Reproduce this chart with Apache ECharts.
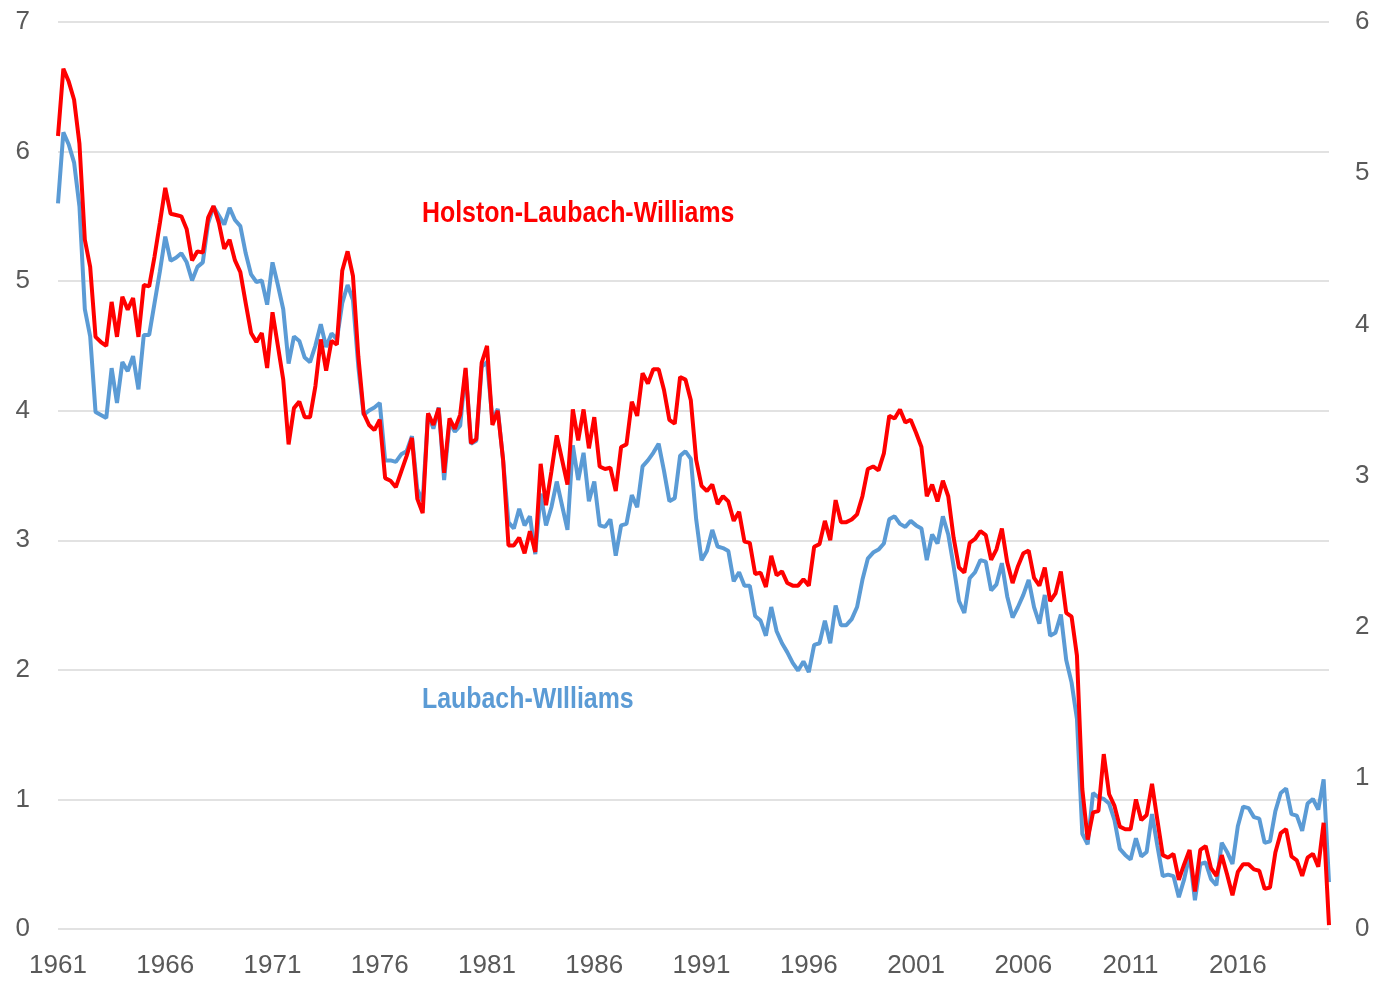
<!DOCTYPE html>
<html>
<head>
<meta charset="utf-8">
<script src="https://cdn.jsdelivr.net/npm/echarts@6/dist/echarts.min.js"></script>
<style>
  html, body { margin: 0; padding: 0; background: #fff; }
  #main { width: 1375px; height: 982px; }
</style>
</head>
<body>
<div id="main"></div>
<script>
// quarterly, 1961Q1 .. 2020Q2
const startYear = 1961
const nQuarters = 238

// Holston-Laubach-Williams (left axis)
const hlw = [
  6.12, 6.64, 6.54, 6.40,
  6.06, 5.32, 5.11, 4.57,
  4.53, 4.50, 4.84, 4.57,
  4.88, 4.78, 4.87, 4.57,
  4.97, 4.96, 5.19, 5.45,
  5.72, 5.52, 5.51, 5.50,
  5.40, 5.16, 5.23, 5.22,
  5.49, 5.58, 5.45, 5.25,
  5.32, 5.16, 5.07, 4.83,
  4.60, 4.53, 4.60, 4.33,
  4.76, 4.50, 4.24, 3.74,
  4.02, 4.07, 3.95, 3.95,
  4.19, 4.55, 4.31, 4.54,
  4.51, 5.08, 5.23, 5.04,
  4.42, 3.98, 3.89, 3.85,
  3.93, 3.48, 3.46, 3.41,
  3.53, 3.65, 3.79, 3.32,
  3.21, 3.98, 3.89, 4.02,
  3.52, 3.94, 3.86, 3.97,
  4.33, 3.75, 3.78, 4.37,
  4.50, 3.89, 4.00, 3.62,
  2.96, 2.96, 3.02, 2.90,
  3.07, 2.91, 3.59, 3.27,
  3.53, 3.81, 3.62, 3.43,
  4.01, 3.77, 4.01, 3.71,
  3.95, 3.57, 3.55, 3.56,
  3.38, 3.72, 3.74, 4.07,
  3.96, 4.29, 4.21, 4.32,
  4.32, 4.16, 3.93, 3.90,
  4.26, 4.24, 4.08, 3.62,
  3.42, 3.38, 3.43, 3.28,
  3.34, 3.30, 3.15, 3.22,
  2.99, 2.98, 2.74, 2.75,
  2.64, 2.88, 2.73, 2.76,
  2.67, 2.65, 2.65, 2.70,
  2.65, 2.95, 2.97, 3.15,
  3.00, 3.31, 3.14, 3.14,
  3.16, 3.20, 3.34, 3.55,
  3.57, 3.54, 3.67, 3.96,
  3.94, 4.01, 3.91, 3.93,
  3.83, 3.72, 3.34, 3.43,
  3.30, 3.46, 3.34, 3.02,
  2.79, 2.75, 2.98, 3.01,
  3.07, 3.04, 2.85, 2.93,
  3.09, 2.83, 2.67, 2.80,
  2.90, 2.92, 2.71, 2.65,
  2.79, 2.53, 2.59, 2.76,
  2.44, 2.41, 2.11, 1.08,
  0.69, 0.90, 0.91, 1.35,
  1.04, 0.95, 0.79, 0.77,
  0.77, 1.00, 0.84, 0.88,
  1.12, 0.84, 0.57, 0.55,
  0.58, 0.38, 0.50, 0.61,
  0.29, 0.61, 0.64, 0.47,
  0.41, 0.57, 0.42, 0.26,
  0.44, 0.50, 0.50, 0.46,
  0.45, 0.31, 0.32, 0.59,
  0.74, 0.77, 0.56, 0.53,
  0.41, 0.55, 0.58, 0.48,
  0.82, 0.03
]

// Laubach-Williams (right axis)
const lw = [
  4.80, 5.27, 5.19, 5.07,
  4.78, 4.10, 3.92, 3.42,
  3.40, 3.38, 3.71, 3.48,
  3.75, 3.69, 3.79, 3.57,
  3.93, 3.93, 4.14, 4.35,
  4.58, 4.42, 4.44, 4.47,
  4.41, 4.29, 4.38, 4.41,
  4.67, 4.78, 4.72, 4.66,
  4.77, 4.69, 4.65, 4.47,
  4.33, 4.28, 4.29, 4.13,
  4.41, 4.26, 4.10, 3.74,
  3.92, 3.89, 3.78, 3.75,
  3.86, 4.00, 3.85, 3.94,
  3.90, 4.14, 4.26, 4.16,
  3.72, 3.40, 3.43, 3.45,
  3.48, 3.10, 3.10, 3.09,
  3.14, 3.16, 3.26, 2.91,
  2.83, 3.41, 3.31, 3.45,
  2.97, 3.35, 3.29, 3.33,
  3.70, 3.21, 3.23, 3.72,
  3.75, 3.37, 3.44, 3.10,
  2.69, 2.65, 2.78, 2.67,
  2.73, 2.48, 2.88, 2.67,
  2.79, 2.96, 2.80, 2.64,
  3.20, 2.97, 3.15, 2.83,
  2.96, 2.67, 2.66, 2.71,
  2.47, 2.67, 2.68, 2.87,
  2.79, 3.06, 3.10, 3.15,
  3.21, 3.03, 2.83, 2.85,
  3.13, 3.16, 3.11, 2.71,
  2.44, 2.50, 2.64, 2.53,
  2.52, 2.50, 2.30, 2.36,
  2.27, 2.27, 2.07, 2.04,
  1.94, 2.13, 1.97, 1.89,
  1.83, 1.76, 1.71, 1.77,
  1.70, 1.88, 1.89, 2.04,
  1.89, 2.14, 2.01, 2.01,
  2.05, 2.13, 2.31, 2.45,
  2.49, 2.51, 2.55, 2.71,
  2.73, 2.68, 2.66, 2.70,
  2.67, 2.65, 2.44, 2.61,
  2.55, 2.73, 2.61, 2.40,
  2.17, 2.09, 2.32, 2.36,
  2.44, 2.43, 2.24, 2.28,
  2.42, 2.20, 2.06, 2.13,
  2.21, 2.31, 2.13, 2.02,
  2.21, 1.94, 1.96, 2.08,
  1.78, 1.63, 1.39, 0.63,
  0.56, 0.90, 0.87, 0.86,
  0.83, 0.72, 0.53, 0.49,
  0.46, 0.60, 0.48, 0.51,
  0.76, 0.55, 0.35, 0.36,
  0.35, 0.21, 0.33, 0.49,
  0.19, 0.43, 0.44, 0.33,
  0.29, 0.57, 0.51, 0.43,
  0.68, 0.81, 0.80, 0.74,
  0.73, 0.57, 0.58, 0.78,
  0.90, 0.93, 0.76, 0.75,
  0.65, 0.83, 0.86, 0.79,
  0.99, 0.31
]

const leftTicks = { min: 0, max: 7, interval: 1 }
const rightTicks = { min: 0, max: 6, interval: 1 }

const quarters = []
for (let i = 0; i < nQuarters; i++) {
  quarters.push((startYear + Math.floor(i / 4)) + 'Q' + (i % 4 + 1))
}

const font = '"Liberation Sans Narrow", "Arial Narrow", "Liberation Sans", Arial, sans-serif'
const labelColor = '#595959'
const narrow = 0.83   // no narrow face installed, squeeze the annotations instead

const chart = echarts.init(document.getElementById('main'))
chart.setOption({
  animation: false,
  backgroundColor: '#ffffff',
  grid: { left: 58, right: 46, top: 22, bottom: 53 },
  xAxis: {
    type: 'category',
    data: quarters,
    boundaryGap: false,
    axisLine: { show: false },
    axisTick: { show: false },
    axisLabel: {
      interval: (idx) => idx % 20 === 0,
      formatter: (v) => v.slice(0, 4),
      color: labelColor,
      fontFamily: font,
      fontSize: 26,
      margin: 24
    }
  },
  yAxis: [
    {
      type: 'value',
      position: 'left',
      min: leftTicks.min, max: leftTicks.max, interval: leftTicks.interval,
      axisLine: { show: false },
      axisTick: { show: false },
      splitLine: { lineStyle: { color: '#d9d9d9', width: 1.5 } },
      axisLabel: { color: labelColor, fontFamily: font, fontSize: 26, margin: 28 }
    },
    {
      type: 'value',
      position: 'right',
      min: rightTicks.min, max: rightTicks.max, interval: rightTicks.interval,
      axisLine: { show: false },
      axisTick: { show: false },
      splitLine: { show: false },
      axisLabel: { color: labelColor, fontFamily: font, fontSize: 26, margin: 26 }
    }
  ],
  graphic: [
    {
      type: 'text', x: 422, y: 214, scaleX: narrow,
      style: { text: 'Holston-Laubach-Williams', fill: '#ff0000', font: 'bold 30px ' + font, align: 'left', verticalAlign: 'middle' }
    },
    {
      type: 'text', x: 422, y: 700, scaleX: narrow,
      style: { text: 'Laubach-WIlliams', fill: '#5b9bd5', font: 'bold 30px ' + font, align: 'left', verticalAlign: 'middle' }
    }
  ],
  series: [
    {
      name: 'Laubach-WIlliams',
      type: 'line',
      yAxisIndex: 1,
      data: lw,
      symbol: 'none',
      lineStyle: { color: '#5b9bd5', width: 4 },
      z: 2
    },
    {
      name: 'Holston-Laubach-Williams',
      type: 'line',
      yAxisIndex: 0,
      data: hlw,
      symbol: 'none',
      lineStyle: { color: '#ff0000', width: 4 },
      z: 3
    }
  ]
})
</script>
</body>
</html>
